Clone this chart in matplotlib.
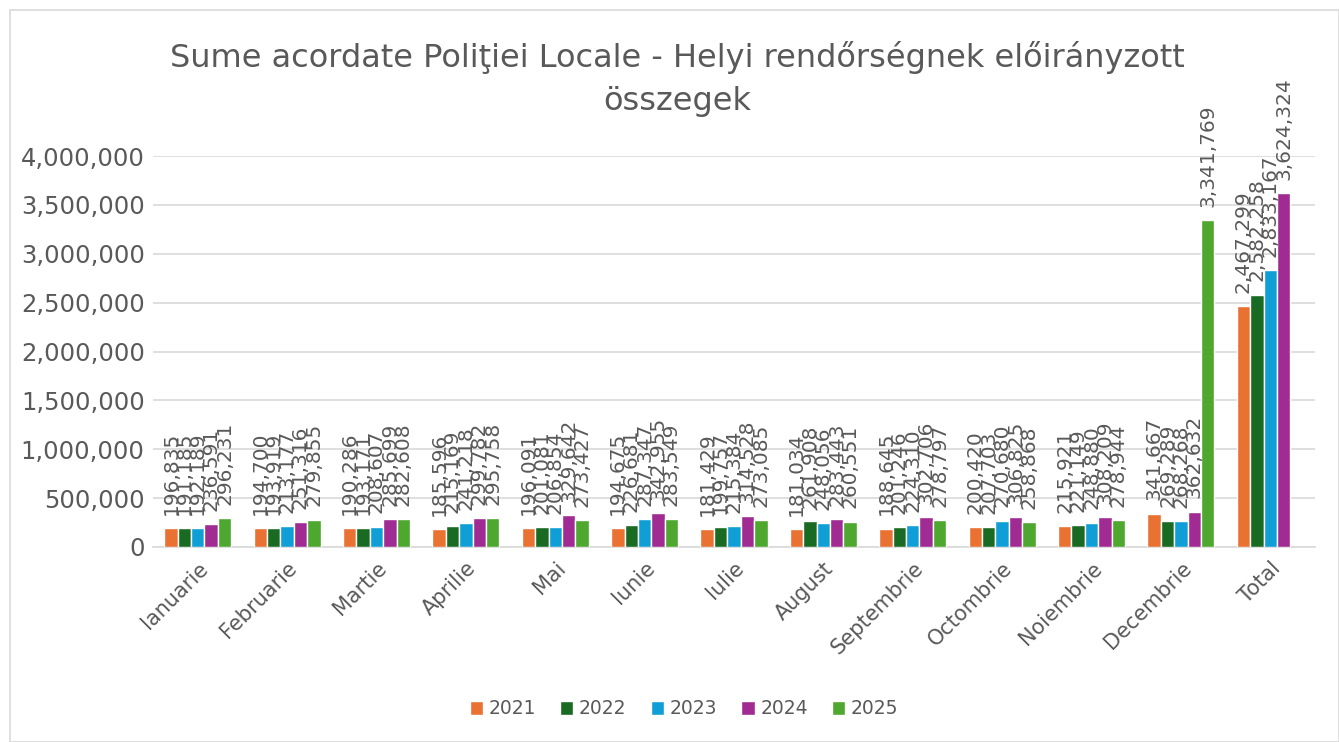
import matplotlib
matplotlib.use("Agg")
import matplotlib.pyplot as plt
from matplotlib.patches import Rectangle
import numpy as np

categories = ["Ianuarie", "Februarie", "Martie", "Aprilie", "Mai", "Iunie", "Iulie",
              "August", "Septembrie", "Octombrie", "Noiembrie", "Decembrie", "Total"]
years = ["2021", "2022", "2023", "2024", "2025"]

v2021 = [196835, 194700, 190286, 185596, 196091, 194675, 181429, 181034, 188645, 200420, 215921, 341667, 2467299]
v2022 = [191185, 193919, 193171, 215169, 201081, 226681, 199757, 261908, 201246, 207703, 221149, 269289, 2582258]
v2023 = [192189, 213177, 208607, 241218, 206854, 287347, 215384, 248056, 224310, 270680, 248880, 268268, 2833167]
v2024 = [236591, 251316, 285699, 299782, 329642, 342955, 314528, 283443, 302706, 306825, 308209, 362632, 3624324]
v2025 = [296231, 279855, 282608, 295758, 273427, 283549, 273085, 260551, 278797, 258868, 278944, 3341769, None]

series = [v2021, v2022, v2023, v2024, v2025]
colors = ["#E97132", "#196B24", "#0F9ED5", "#A02B93", "#4EA72E"]
text_color = "#595959"

plt.rcParams['font.family'] = ['DejaVu Sans']

fig = plt.figure(figsize=(13.39, 7.42), dpi=100)
fig.patches.append(Rectangle((10/1339, 0), 1 - 10/1339, 1 - 10/742, transform=fig.transFigure,
                             fill=False, edgecolor="#D9D9D9", linewidth=1.2))
ax = fig.add_axes([153/1339, 1 - 547/742, (1315 - 153)/1339, (547 - 156)/742])

x = np.arange(len(categories))
bw = 0.15
for i, (vals, col, yr) in enumerate(zip(series, colors, years)):
    xs = [xi + (i - 2) * bw for xi, v in zip(x, vals) if v is not None]
    hs = [v for v in vals if v is not None]
    bars = ax.bar(xs, hs, width=bw, color=col, edgecolor="white", linewidth=1.0, label=yr, zorder=3)
    for b, h in zip(bars, hs):
        ax.annotate(f"{h:,}", (b.get_x() + b.get_width() / 2, h), xytext=(0, 9.5),
                    textcoords="offset points", rotation=90, ha="center", va="bottom",
                    fontsize=14.5, color=text_color, zorder=4)

ax.set_xlim(-0.5, len(categories) - 0.5)
ax.set_ylim(0, 4000000)
ax.set_yticks(np.arange(0, 4000001, 500000))
ax.yaxis.set_major_formatter(matplotlib.ticker.FuncFormatter(lambda v, p: f"{int(v):,}"))
ax.set_xticks(x)
ax.set_xticklabels(categories, rotation=45, ha="right", rotation_mode="anchor")
ax.tick_params(axis="both", length=0, colors=text_color)
ax.tick_params(axis="x", pad=8, labelsize=15)
ax.tick_params(axis="y", pad=6, labelsize=17.5)
ax.grid(axis="y", color="#D9D9D9", linewidth=1.2, zorder=0)
for s in ["top", "right", "left"]:
    ax.spines[s].set_visible(False)
ax.spines["bottom"].set_color("#D9D9D9")
ax.spines["bottom"].set_linewidth(1.2)

fig.text(677/1339, 1 - 79/742,
         "Sume acordate Poliţiei Locale - Helyi rendőrségnek előirányzott\nösszegek",
         ha="center", va="center", fontsize=23, color=text_color, linespacing=1.5)

fig.legend(loc="center", bbox_to_anchor=(684/1339, 1 - 709/742), ncol=5, frameon=False,
           fontsize=13.5, handlelength=0.7, handleheight=0.7, handletextpad=0.3,
           columnspacing=1.3, labelcolor=text_color)

fig.savefig("out.png", dpi=100)
